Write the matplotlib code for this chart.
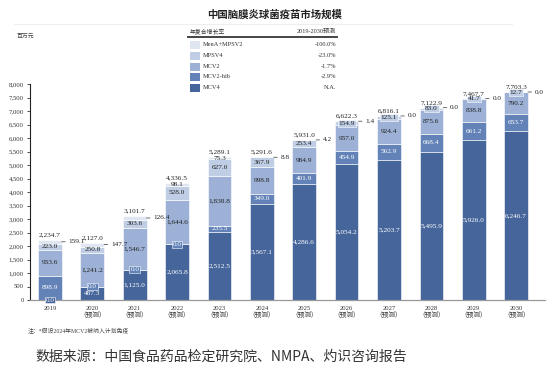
import matplotlib
matplotlib.use("Agg")
import matplotlib.pyplot as plt
import numpy as np

plt.rcParams['font.family'] = ['Liberation Serif', 'Noto Sans CJK SC']

years = ['2019', '2020', '2021', '2022', '2023', '2024', '2025', '2026', '2027', '2028', '2029', '2030']
forecast_tag = '（预测）'
series_names = ['MCV4', 'MCV2-hib', 'MCV2', 'MPSV4', 'MenA+MPSV2']
mcv4 = [0.0, 487.3, 1125.0, 2065.8, 2512.5, 3567.1, 4286.6, 5054.2, 5203.7, 5495.9, 5926.0, 6246.7]
mcv2_hib = [898.9, 0.0, 0.0, 0.0, 235.5, 349.0, 401.9, 454.9, 562.9, 668.4, 661.2, 653.7]
mcv2 = [953.6, 1241.2, 1546.7, 1644.6, 1838.8, 998.8, 984.9, 957.0, 924.4, 875.6, 838.8, 790.2]
mpsv4 = [223.0, 250.8, 303.6, 528.0, 627.0, 367.9, 253.4, 154.9, 125.1, 83.0, 41.7, 12.7]
mena = [159.1, 147.7, 126.4, 98.1, 75.3, 8.8, 4.2, 1.4, 0.0, 0.0, 0.0, 0.0]
totals = [2234.7, 2127.0, 3101.7, 4336.5, 5289.1, 5291.6, 5931.0, 6622.3, 6816.1, 7122.9, 7467.7, 7703.3]
cagr_names = ['MenA+MPSV2', 'MPSV4', 'MCV2', 'MCV2-hib', 'MCV4']
cagr_values = ['-100.0%', '-23.0%', '-1.7%', '-2.9%', 'N.A.']

colors = {'MCV4': '#46669b', 'MCV2-hib': '#6282b8', 'MCV2': '#9cb1d5',
          'MPSV4': '#bfcde5', 'MenA+MPSV2': '#e0e6f1'}
text_colors = {'MCV4': 'white', 'MCV2-hib': 'white', 'MCV2': '#222222',
               'MPSV4': '#222222', 'MenA+MPSV2': '#222222'}

W, H = 550, 370
fig = plt.figure(figsize=(5.5, 3.7), dpi=100)
fig.patch.set_facecolor('white')

def fx(px):
    return px / W

def fy(py):
    return 1 - py / H

ax = fig.add_axes([fx(30), fy(300), fx(545) - fx(30), fy(84) - fy(300)])

x = np.arange(len(years))
bw = 0.56
data = {'MCV4': mcv4, 'MCV2-hib': mcv2_hib, 'MCV2': mcv2, 'MPSV4': mpsv4, 'MenA+MPSV2': mena}
bottom = np.zeros(len(years))
fs = 5.2
for name in series_names:
    vals = np.array(data[name])
    ax.bar(x, vals, bw, bottom=bottom, color=colors[name], edgecolor='white', linewidth=0.4, zorder=2)
    for i, v in enumerate(vals):
        yc = bottom[i] + v / 2
        lab = f'{v:,.1f}'
        if name == 'MenA+MPSV2':
            if v < 20 or v > 120:
                ax.annotate(lab, xy=(x[i] + bw / 2, yc), xytext=(5, 0), textcoords='offset points',
                            ha='left', va='center', fontsize=fs, color='#222222',
                            arrowprops=dict(arrowstyle='-', lw=0.5, color='#333333',
                                            shrinkA=0.5, shrinkB=0))
            else:
                ax.text(x[i], yc, lab, ha='center', va='center', fontsize=fs, color='#222222', zorder=4)
        else:
            boxed = (v < 200)
            kw = {}
            if boxed:
                kw['bbox'] = dict(boxstyle='square,pad=0.12', facecolor=colors[name],
                                  edgecolor='white', linewidth=0.4)
            ax.text(x[i], yc, lab, ha='center', va='center', fontsize=fs,
                    color=text_colors[name], zorder=4, **kw)
    bottom += vals

for i, t in enumerate(totals):
    ax.text(x[i], t + 90, f'{t:,.1f}', ha='center', va='bottom', fontsize=fs, color='#222222')

ax.set_ylim(0, 8000)
ax.set_yticks(np.arange(0, 8001, 500))
ax.set_yticklabels([f'{int(v):,}' for v in np.arange(0, 8001, 500)], fontsize=4.8, color='#333333')
ax.set_xlim(-0.47, len(years) - 1 + 0.68)
ax.set_xticks(x)
ax.set_xticklabels([y if i == 0 else f'{y}\n{forecast_tag}' for i, y in enumerate(years)],
                   fontsize=4.8, color='#333333', linespacing=1.1)
for lbl in ax.get_xticklabels():
    lbl.set_family(['Liberation Serif', 'Noto Sans CJK SC'])
ax.tick_params(axis='x', length=0, pad=4)
ax.tick_params(axis='y', length=2.5, width=0.6, direction='out', pad=2, color='#333333')
for s in ['top', 'right']:
    ax.spines[s].set_visible(False)
ax.spines['left'].set_color('#222222')
ax.spines['left'].set_linewidth(0.8)
ax.spines['bottom'].set_color('#999999')
ax.spines['bottom'].set_linewidth(0.9)

# Title and header line
fig.text(fx(275), fy(15), '中国脑膜炎球菌疫苗市场规模', ha='center', va='center', fontsize=7.5,
         fontweight='bold', color='#222222', family=['Noto Sans CJK SC'])
fig.add_artist(plt.Line2D([fx(14), fx(512)], [fy(24), fy(24)], color='#eeeeee', lw=0.8))
fig.text(fx(17), fy(36), '百万元', ha='left', va='center', fontsize=4.2, color='#444444',
         family=['Noto Sans CJK SC'])

# CAGR legend table
fig.text(fx(190), fy(31.5), '年复合增长率', ha='left', va='center', fontsize=4.2, color='#333333',
         family=['Noto Sans CJK SC'])
fig.text(fx(336), fy(31.5), '2019-2030预测', ha='right', va='center', fontsize=4.4, color='#333333')
fig.add_artist(plt.Line2D([fx(188), fx(337)], [fy(37), fy(37)], color='#444444', lw=1.4))
row_y = [44.5, 55.5, 66.5, 77, 87.5]
for ry, nm, cv in zip(row_y, cagr_names, cagr_values):
    fig.add_artist(plt.Rectangle((fx(189.5), fy(ry + 4)), fx(10), fy(0) - fy(8),
                                 facecolor=colors[nm], edgecolor='none'))
    fig.text(fx(203), fy(ry), nm, ha='left', va='center', fontsize=4.6, color='#333333')
    fig.text(fx(336), fy(ry), cv, ha='right', va='center', fontsize=4.6, color='#333333')

# Notes
fig.text(fx(28), fy(331), '注：*假设2024年MCV2被纳入计划免疫', ha='left', va='center', fontsize=4.2,
         color='#444444')
fig.text(fx(35), fy(357), '数据来源：中国食品药品检定研究院、NMPA、灼识咨询报告', ha='left', va='center',
         fontsize=10, color='#333333', family=['Noto Sans CJK SC'])

fig.savefig('out.png', dpi=100, facecolor='white')
